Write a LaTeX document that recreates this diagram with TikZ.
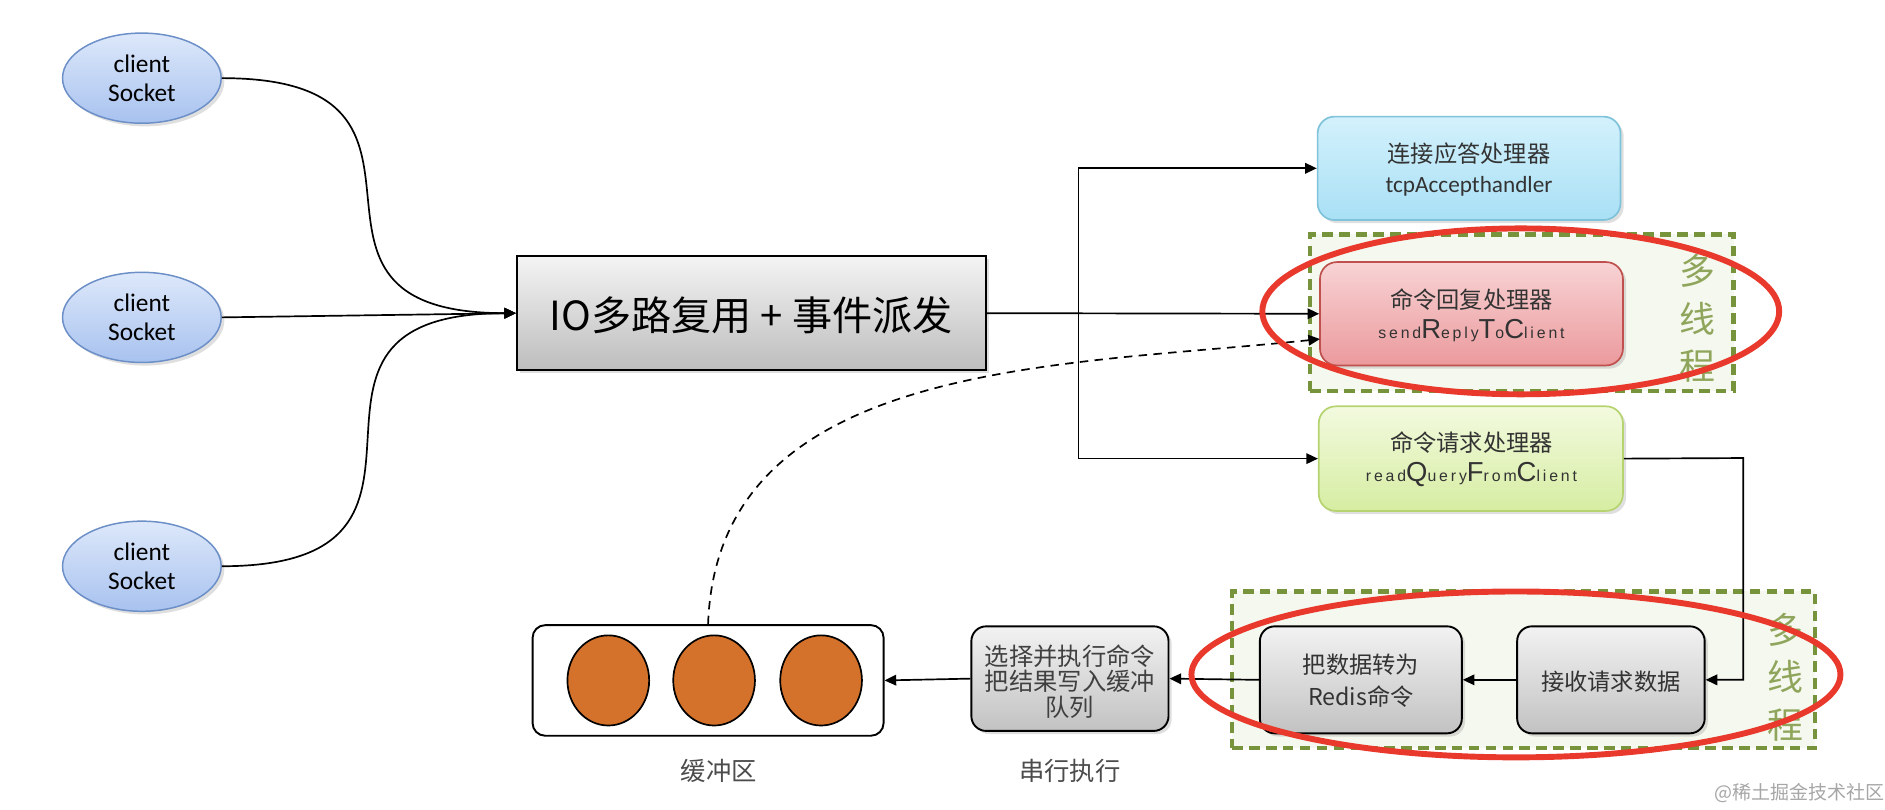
\documentclass[tikz,border=0pt]{standalone}
\usepackage{fontspec}
\setmainfont{Carlito}
\newfontfamily\cjk{Noto Sans CJK SC}
\newfontfamily\arialsp[LetterSpace=18]{Liberation Sans}
\newfontfamily\arialf{Liberation Sans}
\usetikzlibrary{arrows.meta,shapes.geometric,shadows,fit}
\definecolor{clienttop}{HTML}{DDE8FA}
\definecolor{clientbot}{HTML}{A8C2EF}
\definecolor{clientbd}{HTML}{6C8FC7}
\definecolor{iotop}{HTML}{F4F4F4}
\definecolor{iobot}{HTML}{BDBDBD}
\definecolor{tcptop}{HTML}{D3F1FC}
\definecolor{tcpbot}{HTML}{A9E0F5}
\definecolor{tcpbd}{HTML}{7FC3DA}
\definecolor{redtop}{HTML}{F8D3D4}
\definecolor{redbot}{HTML}{EB9A9D}
\definecolor{redbd}{HTML}{C0504D}
\definecolor{grntop}{HTML}{F3FADF}
\definecolor{grnbot}{HTML}{D6EDA2}
\definecolor{grnbd}{HTML}{B5D36E}
\definecolor{grytop}{HTML}{F2F2F2}
\definecolor{grybot}{HTML}{C2C2C2}
\definecolor{grpfill}{HTML}{F5F8EE}
\definecolor{grpbd}{HTML}{77933C}
\definecolor{orangef}{HTML}{D4722B}
\definecolor{olivetxt}{HTML}{8FA55B}
\definecolor{hlred}{HTML}{E8392C}
\definecolor{txtdark}{HTML}{333333}
\newcommand\smt[1]{{\arialsp\fontsize{7.5}{9}\selectfont #1}}
\newcommand\bgt[1]{{\arialf\fontsize{13}{14}\selectfont #1}}
\begin{document}
\begin{tikzpicture}[x={(0.02cm,0)}, y={(0,-0.02cm)},
  arr/.style={-{Triangle[length=5.5pt,width=5pt]}, line width=0.8pt},
  shad/.style={drop shadow={opacity=0.25, shadow xshift=1.5pt, shadow yshift=-1.5pt}},
  client/.style={ellipse, draw=clientbd, line width=0.7pt, top color=clienttop, bottom color=clientbot,
    minimum width=2.64cm, minimum height=1.5cm, align=center, inner sep=0pt,
    font=\fontsize{12}{13.6}\selectfont, shad},
  iobox/.style={rectangle, draw=black, line width=0.9pt, top color=iotop, bottom color=iobot,
    inner sep=0pt, shad},
  handler/.style={rectangle, rounded corners=8pt, line width=0.8pt, inner sep=0pt, shad},
  htxt/.style={align=center, text=txtdark, inner sep=0pt, font=\fontsize{11}{14}\selectfont},
  grybox/.style={rectangle, rounded corners=7pt, draw=black, line width=0.9pt, top color=grytop,
    bottom color=grybot, inner sep=0pt, shad},
  gtxt/.style={align=center, text=txtdark, inner sep=0pt, font=\cjk\fontsize{11}{15}\selectfont},
  group/.style={rectangle, draw=grpbd, fill=grpfill, line width=2pt, dash pattern=on 5pt off 3pt, inner sep=0pt},
  mt/.style={text=olivetxt, align=center, font=\cjk\fontsize{17}{22.5}\selectfont},
  hl/.style={ellipse, draw=hlred, line width=2.8pt, inner sep=0pt},
  lbl/.style={text=black!70, font=\cjk\fontsize{12}{14}\selectfont}
]
\useasboundingbox (0,0) rectangle (1568,673);

% clients
\node[client] (c1) at (118,65) {client\\Socket};
\node[client] (c2) at (118,264) {client\\Socket};
\node[client] (c3) at (118,471) {client\\Socket};

% IO box
\node[iobox, fit={(430,213) (820,308)}] (io) {};
\node[font=\cjk\fontsize{19}{22}\selectfont, inner sep=0pt] (iot) at (625,262) {IO多路复用 + 事件派发};

% group backgrounds
\node[group, fit={(1090,195) (1442,325)}] (g1) {};
\node[group, fit={(1025,492) (1510,622)}] (g2) {};

% handlers
\node[handler, draw=tcpbd, top color=tcptop, bottom color=tcpbot, fit={(1096,97) (1348,183)}] (tcp) {};
\node[htxt] (tcpt) at (1222,141) {{\cjk\fontsize{11}{14}\selectfont 连接应答处理器}\\tcpAccepthandler};
\node[handler, draw=redbd, top color=redtop, bottom color=redbot, fit={(1098,218) (1350,304)}] (red) {};
\node[htxt] (redt) at (1224,262) {{\cjk\fontsize{11}{14}\selectfont 命令回复处理器}\\\smt{send}\bgt{R}\smt{eply}\bgt{T}\smt{o}\bgt{C}\smt{lient}};
\node[handler, draw=grnbd, top color=grntop, bottom color=grnbot, fit={(1097,338) (1350,425)}] (grn) {};
\node[htxt] (grnt) at (1224,382) {{\cjk\fontsize{11}{14}\selectfont 命令请求处理器}\\\smt{read}\bgt{Q}\smt{uery}\bgt{F}\smt{rom}\bgt{C}\smt{lient}};

% multi-thread labels
\node[mt] (mt1) at (1412,265) {多\\线\\程};
\node[mt] (mt2) at (1485,563) {多\\线\\程};

% bottom boxes
\node[grybox, fit={(1262,521) (1418,610)}] (recv) {};
\node[gtxt] (recvt) at (1340,567) {接收请求数据};
\node[grybox, fit={(1048,521) (1216,610)}] (conv) {};
\node[gtxt] (convt) at (1132,566) {把数据转为\\Redis命令};
\node[grybox, fit={(808,521) (972,608)}] (exec) {};
\node[gtxt, font=\cjk\fontsize{11.5}{12}\selectfont, text=black!75] (exect) at (890,567) {选择并执行命令\\把结果写入缓冲\\队列};

% buffer
\node[rectangle, rounded corners=6pt, draw=black, line width=0.9pt, fill=white, inner sep=0pt,
  fit={(443,520) (735,612)}] (buf) {};
\node[ellipse, draw=black, line width=0.8pt, fill=orangef, minimum width=1.36cm, minimum height=1.5cm] (o1) at (506,566) {};
\node[ellipse, draw=black, line width=0.8pt, fill=orangef, minimum width=1.36cm, minimum height=1.5cm] (o2) at (594,566) {};
\node[ellipse, draw=black, line width=0.8pt, fill=orangef, minimum width=1.36cm, minimum height=1.5cm] (o3) at (683,566) {};

\node[lbl] (lb1) at (598,641) {缓冲区};
\node[lbl] (lb2) at (890,641) {串行执行};

% connectors clients -> IO
\draw[arr] (c1.east) to[out=0,in=180,looseness=1.8] (io.west);
\draw[arr] (c2.east) -- (io.west);
\draw[arr] (c3.east) to[out=0,in=180,looseness=1.8] (io.west);

% fan out
\coordinate (fan) at (897,261);
\draw[arr] (io.east) -- (red.west);
\draw[arr] (fan) |- (tcp.west);
\draw[arr] (fan) |- (grn.west);

% green -> recv
\coordinate (turn) at (1450,381);
\draw[arr] (grn.east) -- (turn) |- (recv.east);
\draw[arr] (recv.west) -- (conv.east);
\draw[arr] (conv.west) -- (exec.east);
\draw[arr] (exec.west) -- (buf.east);

% dashed feedback
\coordinate (rin) at (1098,282);
\draw[arr, dash pattern=on 4pt off 3pt] (buf.north) to[out=88,in=186] (rin);

% red highlight ellipses
\node[hl, minimum width=8.6cm, minimum height=2.76cm] (h1) at (1265,259) {};
\node[hl, minimum width=10.8cm, minimum height=2.76cm] (h2) at (1261,561) {};

% watermark
\node[text=black!35, font=\cjk\fontsize{9}{10}\selectfont] (wm) at (1497,660) {@稀土掘金技术社区};
\end{tikzpicture}
\end{document}
